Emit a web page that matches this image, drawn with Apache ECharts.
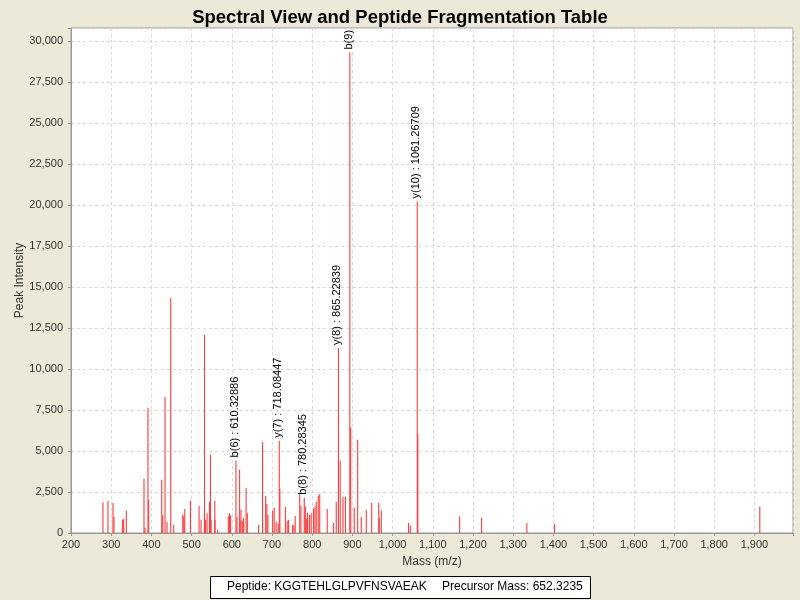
<!DOCTYPE html>
<html>
<head>
<meta charset="utf-8">
<script src="https://cdn.jsdelivr.net/npm/echarts@6/dist/echarts.min.js"></script>
<style>
html,body{margin:0;padding:0;background:#ECE9D8;}
#chart{width:800px;height:600px;}
</style>
</head>
<body>
<div id="chart"></div>
<script>
// Peak masses (m/z) and intensities
const peakMasses = [
  279.5, 291.9, 304.4, 306.9, 327.8, 331.0, 337.7, 381.6, 384.1, 391.5,
  393.3, 425.7, 428.2, 433.9, 438.9, 448.1, 455.6, 478.0, 480.5, 483.0,
  497.1, 518.6, 523.5, 532.0, 534.5, 538.5, 544.4, 546.9, 548.5, 557.6,
  558.4, 565.1, 591.3, 594.3, 597.0, 610.32886, 612.9, 619.4, 620.7, 622.9,
  626.2, 629.4, 635.6, 638.6, 666.7, 676.5, 684.2, 687.2, 689.7, 701.6,
  705.4, 710.3, 715.3, 718.08447, 719.6, 733.3, 737.8, 741.3, 751.2, 754.4,
  757.7, 768.9, 771.9, 780.28345, 783.0, 785.5, 788.5, 793.5, 797.5, 803.5,
  806.7, 810.0, 815.0, 818.7, 837.4, 852.8, 859.8, 865.22839, 869.6, 876.5,
  882.7, 893.5, 895.7, 904.6, 913.1, 922.1, 934.5, 948.0, 965.4, 966.9,
  971.9, 1039.6, 1044.1, 1061.26709, 1062.8, 1166.7, 1221.4, 1334.0, 1402.7, 1913.4
];
const peakIntensities = [
  1870, 1970, 1830, 990, 810, 850, 1360, 3310, 320, 7640,
  2030, 3250, 1100, 8310, 690, 14350, 500, 1135, 1000, 1460,
  1970, 1665, 810, 12100, 810, 1200, 1910, 4780, 810, 1970,
  810, 200, 1016, 1200, 1080, 4430, 1000, 3860, 810, 1420,
  720, 930, 2760, 1200, 500, 5550, 2280, 1770, 1100, 1360,
  1560, 690, 567, 5630, 2680, 1600, 750, 810, 500, 460,
  1040, 2400, 1665, 2150, 1620, 870, 1240, 1100, 1200, 1465,
  1620, 1910, 2275, 2380, 1465, 610, 1900, 11285, 4410, 2200,
  2200, 29320, 6450, 1560, 5690, 980, 1420, 1830, 1830, 915,
  1380, 610, 445, 20230, 6040, 1000, 930, 610, 550, 1620
];
// Fragment annotations (mass of annotated peak and its label text)
const annotationMasses = [610.32886, 718.08447, 780.28345, 865.22839, 893.5, 1061.26709];
const annotationTexts = ['b(6) : 610.32886', 'y(7) : 718.08447', 'b(8) : 780.28345', 'y(8) : 865.22839', 'b(9)', 'y(10) : 1061.26709'];

const xTicksStep = 100, yTicksStep = 2500;
const peptideText = 'Peptide: KGGTEHLGLPVFNSVAEAK';
const precursorText = 'Precursor Mass: 652.3235';

const data = peakMasses.map((m, i) => [m, peakIntensities[i]]);
const labelFor = m => {
  const k = annotationMasses.indexOf(m);
  return k >= 0 ? annotationTexts[k] : null;
};
const fmt = v => v.toLocaleString('en-US');
const FONT = '"Liberation Sans", Arial, sans-serif';

const chart = echarts.init(document.getElementById('chart'));
chart.setOption({
  backgroundColor: '#ECE9D8',
  animation: false,
  title: {
    text: 'Spectral View and Peptide Fragmentation Table',
    left: 'center', top: 3,
    textStyle: {fontFamily: FONT, fontSize: 18.5, fontWeight: 'bold', color: '#000'}
  },
  grid: {
    left: 71, right: 7, top: 28, bottom: 67,
    outerBoundsMode: 'none', containLabel: false,
    show: true, backgroundColor: '#fff', borderColor: '#999', borderWidth: 1
  },
  xAxis: {
    type: 'value', min: 200, max: 1996, interval: xTicksStep,
    name: 'Mass (m/z)', nameLocation: 'middle', nameGap: 23, nameMoveOverlap: false,
    nameTextStyle: {fontFamily: FONT, fontSize: 12, color: '#333'},
    axisLine: {show: true, onZero: false, lineStyle: {color: '#999'}},
    axisTick: {show: true, length: 3, lineStyle: {color: '#999'}},
    axisLabel: {
      fontFamily: FONT, fontSize: 11, color: '#333', margin: 6,
      formatter: v => (v % xTicksStep === 0 ? fmt(v) : '')
    },
    splitLine: {show: true, lineStyle: {color: '#d9d9d9', type: [3, 3]}}
  },
  yAxis: {
    type: 'value', min: 0, max: 30815, interval: yTicksStep,
    name: 'Peak Intensity', nameLocation: 'middle', nameGap: 45, nameMoveOverlap: false,
    nameTextStyle: {fontFamily: FONT, fontSize: 12, color: '#333'},
    axisLine: {show: true, lineStyle: {color: '#999'}},
    axisTick: {show: true, length: 3, lineStyle: {color: '#999'}},
    axisLabel: {
      fontFamily: FONT, fontSize: 11, color: '#333', margin: 8,
      formatter: v => (v % yTicksStep === 0 ? fmt(v) : '')
    },
    splitLine: {show: true, lineStyle: {color: '#d9d9d9', type: [3, 3]}}
  },
  series: [{
    type: 'custom',
    data: data,
    silent: true,
    renderItem: (params, api) => {
      const m = api.value(0), inten = api.value(1);
      const p0 = api.coord([m, 0]);
      const p1 = api.coord([m, inten]);
      const children = [{
        type: 'line',
        shape: {x1: p0[0], y1: p0[1], x2: p1[0], y2: p1[1]},
        style: {stroke: 'rgb(255,60,60)', lineWidth: 1.1}
      }];
      const lbl = labelFor(peakMasses[params.dataIndex]);
      if (lbl) {
        children.push({
          type: 'text',
          x: p1[0] - 1, y: p1[1] - 3,
          rotation: Math.PI / 2,
          style: {
            text: lbl, fill: '#000', font: '11px ' + FONT,
            align: 'left', verticalAlign: 'middle'
          }
        });
      }
      return {type: 'group', children: children};
    }
  }],
  graphic: [
    {type: 'rect', left: 210, top: 576, shape: {width: 380, height: 22},
     style: {fill: '#fff', stroke: '#000', lineWidth: 1}},
    {type: 'text', left: 227, top: 581,
     style: {text: peptideText, fill: '#000', font: '12px ' + FONT}},
    {type: 'text', left: 442, top: 581,
     style: {text: precursorText, fill: '#000', font: '12px ' + FONT}}
  ]
});
</script>
</body>
</html>
